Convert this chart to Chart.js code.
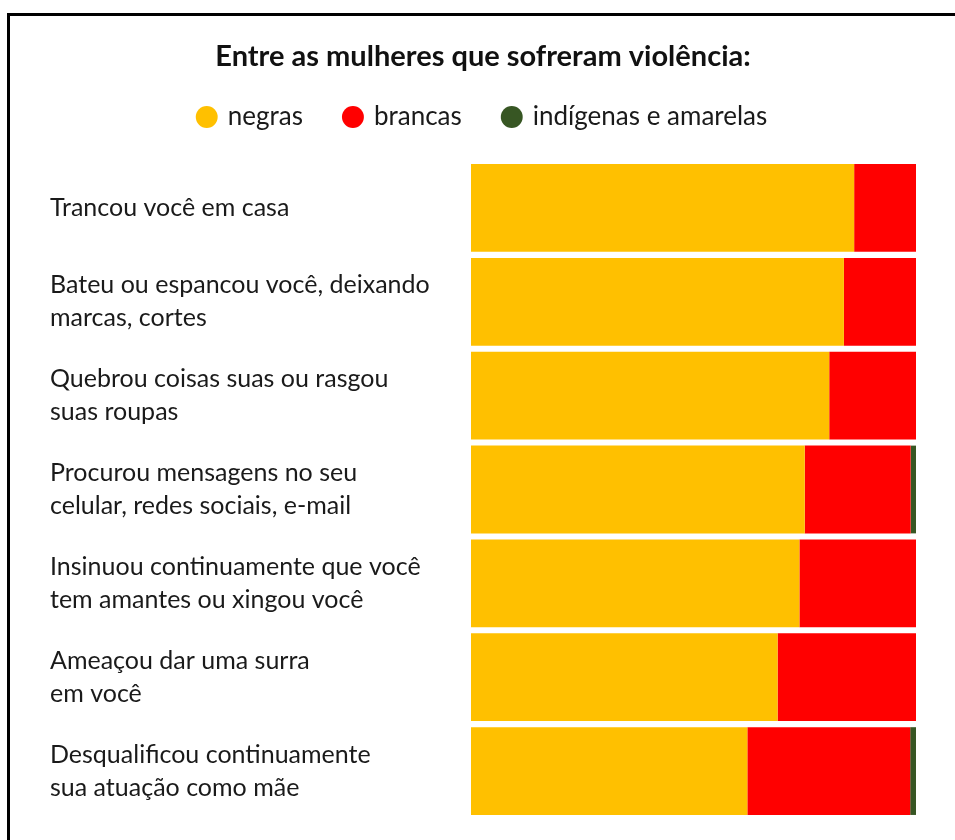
<!DOCTYPE html>
<html>
<head>
<meta charset="utf-8">
<script src="https://cdn.jsdelivr.net/npm/chart.js@4"></script>
<style>
  html, body { margin: 0; padding: 0; background: #fff; }
  #wrap { position: relative; width: 955px; height: 840px; overflow: hidden; }
  #frame { position: absolute; left: 7px; top: 13px; right: -10px; bottom: -10px;
           border-top: 3px solid #000; border-left: 3px solid #000; }
  canvas { position: absolute; left: 0; top: 0; }
</style>
</head>
<body>
<div id="wrap">
  <div id="frame"></div>
  <canvas id="chart-violencia" width="955" height="840"></canvas>
</div>
<script>
document.addEventListener("DOMContentLoaded", () => {

  /* data
  # ------------------------------------------------------------------------------------------------
  */
  const categories = [
    ["Trancou você em casa"],
    ["Bateu ou espancou você, deixando", "marcas, cortes"],
    ["Quebrou coisas suas ou rasgou", "suas roupas"],
    ["Procurou mensagens no seu", "celular, redes sociais, e-mail"],
    ["Insinuou continuamente que você", "tem amantes ou xingou você"],
    ["Ameaçou dar uma surra", "em você"],
    ["Desqualificou continuamente", "sua atuação como mãe"]
  ];
  const negras = [86.1, 83.8, 80.5, 75.0, 73.8, 68.9, 62.1];
  const brancas = [13.9, 16.2, 19.5, 23.8, 26.2, 31.1, 36.6];
  const indigenasAmarelas = [0, 0, 0, 1.2, 0, 0, 1.3];

  const seriesNames = ["negras", "brancas", "indígenas e amarelas"];
  const seriesColors = ["#FFC000", "#FF0000", "#375623"];

  const font = "Lato, 'Noto Sans', sans-serif";

  /* chart
  # ------------------------------------------------------------------------------------------------
  */
  const ctx = document.getElementById("chart-violencia");

  new Chart(ctx, {
    type: "bar",
    data: {
      labels: categories,
      datasets: [negras, brancas, indigenasAmarelas].map((values, i) => ({
        label: seriesNames[i],
        data: values,
        backgroundColor: seriesColors[i],
        borderWidth: 0,
        categoryPercentage: 1,
        barPercentage: 0.935
      }))
    },
    options: {
      indexAxis: "y",
      responsive: false,
      animation: false,
      layout: {
        padding: { left: 50, right: 39, top: 0, bottom: 22 }
      },
      plugins: {
        title: {
          display: true,
          text: "Entre as mulheres que sofreram violência:",
          color: "#111111",
          font: { family: font, size: 29, weight: "bold" },
          padding: { top: 39.6, bottom: -12.4 }
        },
        legend: {
          display: true,
          labels: {
            color: "#1a1a1a",
            font: { family: font, size: 26 },
            usePointStyle: true,
            pointStyle: "circle",
            boxWidth: 16,
            boxHeight: 15.5,
            padding: 42
          }
        },
        tooltip: { enabled: false }
      },
      scales: {
        x: {
          stacked: true,
          min: 0,
          max: 100,
          position: "top",
          grid: { display: false },
          border: { display: false },
          ticks: { display: false },
          afterFit: (scale) => { scale.height = 21; }
        },
        y: {
          stacked: true,
          grid: { display: false },
          border: { display: false },
          ticks: {
            crossAlign: "far",
            color: "#1a1a1a",
            padding: 0,
            font: { family: font, size: 25, lineHeight: 1.32 }
          },
          afterFit: (scale) => { scale.width = 421; }
        }
      }
    }
  });

});
</script>
</body>
</html>
